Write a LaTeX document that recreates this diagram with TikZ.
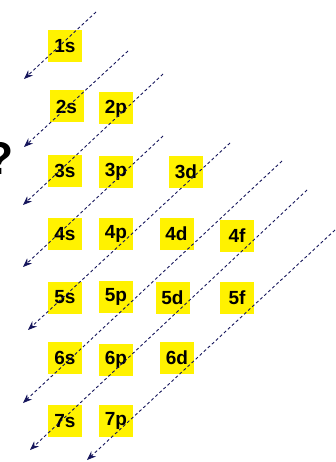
\documentclass[tikz,border=0pt]{standalone}
\usepackage{fontspec}
\setmainfont{Liberation Sans}
\usetikzlibrary{arrows.meta}
\definecolor{navy}{RGB}{22,22,92}

\begin{document}
\begin{tikzpicture}[x=1pt, y=-1pt,
      orb/.style={fill=yellow, minimum width=34pt, minimum height=32pt, inner sep=0pt,
                  font=\fontsize{19}{19}\selectfont\bfseries},
      ar/.style={-{Stealth[length=9pt, width=7pt]}, navy, line width=0.9pt, dash pattern=on 3pt off 2.5pt}]
    \useasboundingbox (0,0) rectangle (336,462);
    \node[font=\fontsize{46}{46}\selectfont\bfseries, inner sep=0pt, anchor=east] (q) at (14,158) {?};
    \node[orb] (o1s) at (65,46) {1s};
    \node[orb] (o2s) at (66.5,106.5) {2s};
    \node[orb] (o2p) at (116,108.5) {2p};
    \node[orb] (o3s) at (65,171) {3s};
    \node[orb] (o3p) at (116,172) {3p};
    \node[orb] (o3d) at (186,172) {3d};
    \node[orb] (o4s) at (65,234) {4s};
    \node[orb] (o4p) at (116,234) {4p};
    \node[orb] (o4d) at (176.5,233.5) {4d};
    \node[orb] (o4f) at (237,235.5) {4f};
    \node[orb] (o5s) at (65,297.5) {5s};
    \node[orb] (o5p) at (116,296.5) {5p};
    \node[orb] (o5d) at (172.5,297.5) {5d};
    \node[orb] (o5f) at (237,298) {5f};
    \node[orb] (o6s) at (65,358) {6s};
    \node[orb] (o6p) at (116,360) {6p};
    \node[orb] (o6d) at (177,358) {6d};
    \node[orb] (o7s) at (65,421) {7s};
    \node[orb] (o7p) at (116,421) {7p};
    % filling order diagonals
    \foreach \i/\sx/\sy/\ex/\ey in {1/96/12/24/79, 2/128/51/24/147, 3/163/74/23/205, 4/163/136/23/267,
        5/230/143/28/330, 6/282/161/23/403, 7/307/190/30/450, 8/335/230/87/460} {
      \coordinate (top\i) at (\sx,\sy);
      \coordinate (tip\i) at (\ex,\ey);
      \draw[ar] (top\i) -- (tip\i);
    }
\end{tikzpicture}
\end{document}
